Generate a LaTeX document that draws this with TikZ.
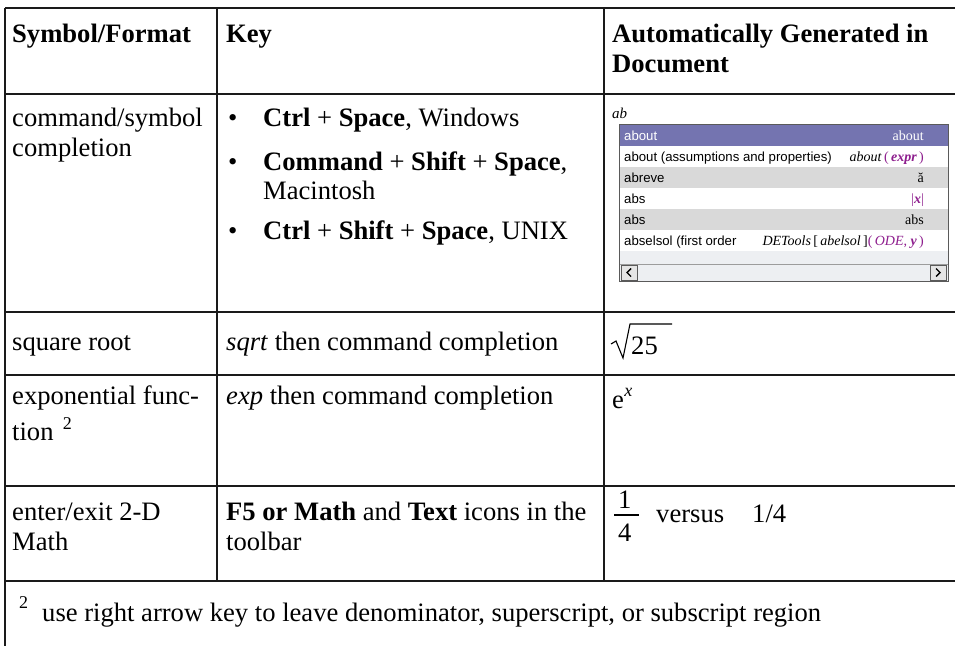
\documentclass[tikz,border=0pt]{standalone}
\usepackage{fontspec}
\setmainfont{Liberation Serif}
\setsansfont{Liberation Sans}
\usetikzlibrary{positioning}
\definecolor{gridblack}{HTML}{1A1A1A}
\definecolor{popbar}{HTML}{7474B0}
\definecolor{poprow}{HTML}{D9D9D9}
\definecolor{popframe}{HTML}{5A5A5A}
\definecolor{mplpurple}{HTML}{8E1E8E}
\definecolor{scrollbg}{HTML}{EDEFF2}
\newcommand{\mpl}[1]{\textcolor{mplpurple}{#1}}

\begin{document}
\begin{tikzpicture}[x=1pt, y=-1pt,
  cell/.style={anchor=base west, inner sep=0pt, font=\fontsize{26.6}{30}\selectfont},
  head/.style={cell, font=\fontsize{26.6}{30}\selectfont\bfseries},
  rule/.style={line width=1.2pt, draw=gridblack},
  thickrule/.style={line width=2.2pt, draw=gridblack},
  popitem/.style={anchor=base west, inner sep=0pt, font=\sffamily\fontsize{13.2}{15}\selectfont},
  popmath/.style={anchor=base east, inner sep=0pt, font=\fontsize{14}{16}\selectfont},
  smallsup/.style={anchor=base west, inner sep=0pt, font=\fontsize{18}{20}\selectfont}
]
  \useasboundingbox[fill=white] (0,0) rectangle (955,646);

  % Table rules
  \draw[rule] (5,8) -- (955,8);
  \draw[rule] (5,94) -- (604,94);
  \draw[thickrule] (604,94) -- (955,94);
  \draw[rule] (5,312) -- (604,312);
  \draw[thickrule] (604,312) -- (955,312);
  \draw[rule] (5,375) -- (604,375);
  \draw[thickrule] (604,375) -- (955,375);
  \draw[rule] (5,486) -- (604,486);
  \draw[thickrule] (604,486) -- (955,486);
  \draw[rule] (5,581) -- (604,581);
  \draw[thickrule] (604,581) -- (955,581);
  \draw[rule] (5,8) -- (5,646);
  \draw[rule] (217,8) -- (217,581);
  \draw[rule] (604,8) -- (604,581);

  % Header
  \node[head] (hsym) at (12,42) {Symbol/Format};
  \node[head] (hkey) at (226,42) {Key};
  \node[head] (hgen) at (612,42) {Automatically Generated in};
  \node[head] (hdoc) at (612,72) {Document};

  % Row 1 - completion
  \node[cell] (compl1) at (12,126) {command/symbol};
  \node[cell] (compl2) at (12,156) {completion};
  \node[cell] (dotwin) at (228,126) {•};
  \node[cell] (keywin) at (263,126) {\textbf{Ctrl} + \textbf{Space}, Windows};
  \node[cell] (dotmac) at (228,170) {•};
  \node[cell] (keymac) at (263,170) {\textbf{Command} + \textbf{Shift} + \textbf{Space},};
  \node[cell] (keymac2) at (263,199) {Macintosh};
  \node[cell] (dotunix) at (228,239) {•};
  \node[cell] (keyunix) at (263,239) {\textbf{Ctrl} + \textbf{Shift} + \textbf{Space}, UNIX};

  % Row 1 - completion popup
  \node[anchor=base west, inner sep=0pt, font=\itshape\fontsize{15}{17}\selectfont] (typed) at (612,118) {ab};
  \fill[white] (619,124) rectangle (948,281);
  \fill[popbar] (619,124) rectangle (948,146);
  \fill[poprow] (619,167) rectangle (948,188);
  \fill[poprow] (619,209) rectangle (948,230);
  \fill[scrollbg] (619,251) rectangle (948,281);
  \draw[popframe!60, line width=0.8pt] (619,264) -- (948,264);
  \draw[popframe, fill=white!90!black] (621,265) rectangle (637,280);
  \draw[popframe, fill=white!90!black] (930,265) rectangle (946,280);
  \draw[line width=1.4pt] (631,268.5) -- (627,272.5) -- (631,276.5);
  \draw[line width=1.4pt] (936,268.5) -- (940,272.5) -- (936,276.5);
  \draw[popframe, line width=1pt] (619,124) rectangle (948,281);

  \node[popitem, text=white] (pabout) at (624,140) {about};
  \node[popmath, text=white] (mabout) at (924,140) {about};
  \node[popitem] (pabout2) at (624,161) {about (assumptions and properties)};
  \node[popmath] (mabout2) at (924,161) {\textit{about}\,\mpl{(\,\textit{\textbf{expr}}\,)}};
  \node[popitem] (pbreve) at (624,182) {abreve};
  \node[popmath] (mbreve) at (924,182) {ă};
  \node[popitem] (pabs) at (624,203) {abs};
  \node[popmath] (mabs) at (924,203) {\mpl{|\textit{\textbf{x}}|}};
  \node[popitem] (pabs2) at (624,224) {abs};
  \node[popmath] (mabs2) at (924,224) {abs};
  \node[popitem] (pdet) at (624,245) {abselsol (first order};
  \node[popmath] (mdet) at (924,245) {\textit{DETools}\,[\,\textit{abelsol}\,]\mpl{(\,\textit{ODE}, \textit{\textbf{y}}\,)}};

  % Row 2 - square root
  \node[cell] (sqrtname) at (12,350) {square root};
  \node[cell] (sqrtkey) at (226,350) {\textit{sqrt} then command completion};
  \draw[line width=1.1pt] (611,344) -- (616,341) -- (623,358) -- (630,324) -- (672,324);
  \node[cell] (sqrtval) at (631,354) {25};

  % Row 3 - exponential
  \node[cell] (expname) at (12,404) {exponential func-};
  \node[cell] (expname2) at (12,440) {tion};
  \node[smallsup] (expsup) at ([xshift=9pt,yshift=11pt]expname2.base east) {2};
  \node[cell] (expkey) at (226,404) {\textit{exp} then command completion};
  \node[cell] (expval) at (612,408) {e};
  \node[anchor=base west, inner sep=0pt, font=\itshape\fontsize{18}{20}\selectfont] (expx) at ([yshift=12pt]expval.base east) {x};

  % Row 4 - 2-D Math
  \node[cell] (mathname) at (12,520) {enter/exit 2-D};
  \node[cell] (mathname2) at (12,550) {Math};
  \node[cell] (mathkey) at (226,520) {\textbf{F5 or Math} and \textbf{Text} icons in the};
  \node[cell] (mathkey2) at (226,550) {toolbar};
  \node[cell] (fracnum) at (618,508) {1};
  \draw[line width=1.1pt] (614,515) -- (639,515);
  \node[cell] (fracden) at (618,541) {4};
  \node[cell] (versus) at (656,522) {versus};
  \node[cell] (flat) at (752,522) {1/4};

  % Footnote
  \node[smallsup] (fnmark) at (19,608) {2};
  \node[cell] (fntext) at (42,621) {use right arrow key to leave denominator, superscript, or subscript region};
\end{tikzpicture}
\end{document}
